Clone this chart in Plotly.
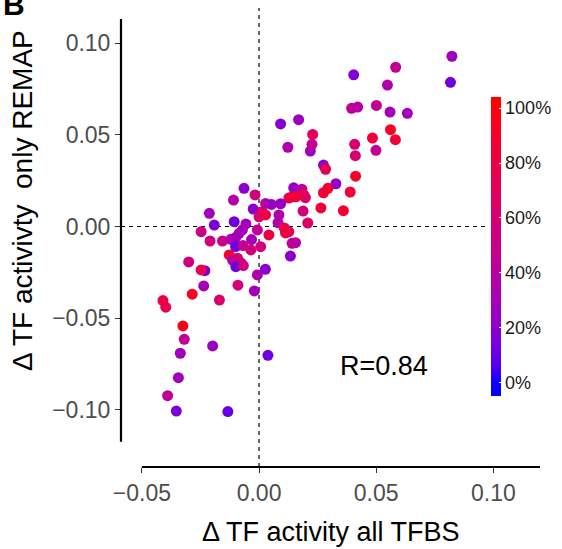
import plotly.graph_objects as go

# delta TF activity, all TFBS (x) vs only REMAP (y), colour = share of REMAP sites
tfbs_all = [
    0.0823, 0.0583, 0.0404, 0.0548, 0.0817, 0.0395, 0.0421, 0.0501, 0.0559, 0.0633,
    0.0561, 0.0484, 0.0582, 0.0408, 0.0499, 0.0411, 0.0219, 0.0275, 0.0284, 0.0412,
    0.0328, 0.0148, 0.0183, 0.0294, 0.0275, 0.0389, 0.0141, 0.0191, 0.0198, 0.0127,
    0.0188, 0.0264, 0.0360, 0.0208, 0.0127, 0.0141, 0.0156, 0.0134, 0.0092, 0.0169,
    0.0229, 0.0226, 0.0123, -0.0064, -0.0017, -0.0109, -0.0025, -0.0212, -0.0191, -0.0106,
    -0.0056, -0.0247, -0.0209, -0.0156, -0.0120, -0.0099, -0.0085, -0.0071, -0.0100, -0.0068,
    -0.0032, -0.0035, 0.0007, -0.0007, 0.0000, 0.0013, 0.0028, 0.0028, 0.0053, 0.0092,
    0.0085, 0.0081, 0.0042, 0.0108, 0.0113, 0.0157, -0.0127, -0.0113, -0.0092, -0.0078,
    -0.0099, -0.0067, -0.0231, -0.0247, -0.0300, -0.0007, 0.0027, -0.0236, -0.0090, -0.0020,
    -0.0285, -0.0169, -0.0410, -0.0398, -0.0325, -0.0319, -0.0198, -0.0336, 0.0038, -0.0344,
    -0.0390, -0.0353, -0.0133,
]
only_remap = [
    0.0928, 0.0868, 0.0827, 0.0771, 0.0786, 0.0644, 0.0651, 0.0660, 0.0624, 0.0617,
    0.0528, 0.0482, 0.0473, 0.0448, 0.0415, 0.0386, 0.0411, 0.0335, 0.0312, 0.0274,
    0.0233, 0.0211, 0.0203, 0.0208, 0.0184, 0.0188, 0.0162, 0.0172, 0.0157, 0.0155,
    0.0084, 0.0101, 0.0086, 0.0019, -0.0028, -0.0092, -0.0088, -0.0161, 0.0559, 0.0582,
    0.0502, 0.0448, 0.0432, 0.0208, 0.0172, 0.0144, 0.0095, 0.0072, 0.0008, 0.0026,
    0.0014, -0.0028, -0.0079, -0.0079, -0.0070, -0.0059, -0.0037, -0.0019, -0.0109, -0.0104,
    -0.0071, -0.0128, -0.0110, -0.0019, 0.0053, 0.0081, 0.0126, 0.0063, 0.0120, 0.0124,
    0.0063, 0.0021, -0.0046, -0.0008, -0.0035, 0.0162, -0.0155, -0.0183, -0.0173, -0.0197,
    -0.0219, -0.0213, -0.0241, -0.0237, -0.0193, -0.0264, -0.0233, -0.0324, -0.0320, -0.0351,
    -0.0369, -0.0401, -0.0404, -0.0440, -0.0542, -0.0615, -0.0651, -0.0691, -0.0702, -0.0824,
    -0.0922, -0.1006, -0.1009,
]
remap_share = [
    0.27, 0.45, 0.18, 0.35, 0.12, 0.45, 0.38, 0.45, 0.30, 0.28,
    0.92, 0.85, 0.85, 0.60, 0.45, 0.60, 0.28, 0.22, 0.72, 0.90,
    0.22, 0.22, 0.42, 0.88, 0.85, 0.85, 0.78, 0.82, 0.65, 0.80,
    0.55, 0.85, 0.88, 0.65, 0.70, 0.45, 0.40, 0.20, 0.18, 0.25,
    0.72, 0.45, 0.35, 0.20, 0.55, 0.35, 0.20, 0.28, 0.15, 0.12,
    0.30, 0.52, 0.55, 0.50, 0.35, 0.30, 0.30, 0.28, 0.12, 0.45,
    0.30, 0.58, 0.55, 0.45, 0.60, 0.65, 0.40, 0.80, 0.25, 0.25,
    0.35, 0.35, 0.80, 0.80, 0.80, 0.85, 0.88, 0.40, 0.55, 0.55,
    0.12, 0.55, 0.15, 0.75, 0.55, 0.35, 0.20, 0.30, 0.58, 0.30,
    0.92, 0.62, 0.82, 0.75, 0.95, 0.45, 0.25, 0.28, 0.12, 0.28,
    0.45, 0.15, 0.10,
]
x_ticks = [-0.05, 0.0, 0.05, 0.10]
x_labels = ["\u22120.05", "0.00", "0.05", "0.10"]
y_ticks = [-0.10, -0.05, 0.0, 0.05, 0.10]
y_labels = ["\u22120.10", "\u22120.05", "0.00", "0.05", "0.10"]
cb_ticks = [0, 0.2, 0.4, 0.6, 0.8, 1.0]
cb_labels = ["0%", "20%", "40%", "60%", "80%", "100%"]


def srgb_to_lab(c):
    lin = []
    for v in c:
        v = v / 255
        lin.append(v / 12.92 if v <= 0.04045 else ((v + 0.055) / 1.055) ** 2.4)
    r, g, b = lin
    X = (0.4124 * r + 0.3576 * g + 0.1805 * b) / 0.95047
    Y = 0.2126 * r + 0.7152 * g + 0.0722 * b
    Z = (0.0193 * r + 0.1192 * g + 0.9505 * b) / 1.08883
    f = lambda t: t ** (1 / 3) if t > 0.008856 else 7.787 * t + 16 / 116
    fx, fy, fz = f(X), f(Y), f(Z)
    return 116 * fy - 16, 500 * (fx - fy), 200 * (fy - fz)


def lab_to_srgb(L, a, b):
    fy = (L + 16) / 116
    fx = fy + a / 500
    fz = fy - b / 200
    inv = lambda t: t ** 3 if t ** 3 > 0.008856 else (t - 16 / 116) / 7.787
    X, Y, Z = inv(fx) * 0.95047, inv(fy), inv(fz) * 1.08883
    r = 3.2406 * X - 1.5372 * Y - 0.4986 * Z
    g = -0.9689 * X + 1.8758 * Y + 0.0415 * Z
    bb = 0.0557 * X - 0.2040 * Y + 1.0570 * Z
    out = []
    for v in (r, g, bb):
        v = 12.92 * v if v <= 0.0031308 else 1.055 * v ** (1 / 2.4) - 0.055
        out.append(int(round(min(max(v, 0), 1) * 255)))
    return "rgb({},{},{})".format(*out)


# blue -> red gradient interpolated in Lab, like scale_colour_gradient
lo, hi = srgb_to_lab((0, 0, 255)), srgb_to_lab((255, 0, 0))
cmin, cmax = -0.05, 1.04
scale = []
for i in range(21):
    t = i / 20
    v = cmin + t * (cmax - cmin)
    k = min(max(v, 0), 1)
    scale.append([t, lab_to_srgb(*[lo[j] + k * (hi[j] - lo[j]) for j in range(3)])])

fig = go.Figure(go.Scatter(
    x=tfbs_all, y=only_remap, mode="markers",
    marker=dict(
        size=11, color=remap_share, colorscale=scale, cmin=cmin, cmax=cmax,
        showscale=True,
        colorbar=dict(
            x=0.884, xanchor="left", y=0.48, yanchor="middle",
            len=299, lenmode="pixels", thickness=10, xpad=0, ypad=0,
            outlinewidth=0, tickvals=cb_ticks, ticktext=cb_labels,
            ticks="inside", ticklen=2, tickcolor="white",
            tickfont=dict(size=18, color="#1a1a1a"),
        ),
    ),
    showlegend=False,
))

fig.update_layout(
    width=562, height=549,
    margin=dict(l=121, r=19, t=8, b=82),
    plot_bgcolor="white", paper_bgcolor="white",
    font=dict(family="Liberation Sans, Arial, sans-serif"),
    xaxis=dict(
        range=[-0.0589, 0.1199], showgrid=False, zeroline=False, showline=False,
        tickvals=x_ticks, ticktext=x_labels, ticks="outside", ticklen=5,
        tickwidth=1.2, tickcolor="#333333", tickfont=dict(size=23, color="#4d4d4d"),
    ),
    yaxis=dict(
        range=[-0.1311, 0.1191], showgrid=False, zeroline=False, showline=False,
        tickvals=y_ticks, ticktext=y_labels, ticks="outside", ticklen=5,
        tickwidth=1.2, tickcolor="#333333", tickfont=dict(size=23, color="#4d4d4d"),
    ),
    shapes=[
        dict(type="line", xref="x", yref="y", x0=-0.0589, x1=0.0966, y0=0, y1=0,
             line=dict(color="black", width=1.2, dash="4px,4px"), layer="below"),
        dict(type="line", xref="x", yref="paper", x0=0, x1=0, y0=0, y1=1,
             line=dict(color="black", width=1.2, dash="4px,4px"), layer="below"),
        dict(type="line", xref="x", yref="paper", x0=-0.05, x1=0.12, y0=0, y1=0,
             line=dict(color="black", width=2.2)),
        dict(type="line", xref="paper", yref="y", x0=0, x1=0, y0=-0.1174, y1=0.1131,
             line=dict(color="black", width=2.2)),
    ],
    annotations=[
        dict(text="R=0.84", x=0.0534, y=-0.076, xref="x", yref="y", showarrow=False,
             font=dict(size=27, color="black")),
        dict(text="\u0394 TF activity all TFBS", x=0.5, y=-0.1416, xref="paper",
             yref="paper", showarrow=False, yanchor="middle",
             font=dict(size=27, color="black")),
        dict(text="\u0394 TF activivty \u00a0only REMAP", x=-0.2346, y=0.581,
             xref="paper", yref="paper", showarrow=False, textangle=-90,
             xanchor="center", yanchor="middle", font=dict(size=28, color="black")),
        dict(text="<b>B</b>", x=-0.2867, y=1.0087, xref="paper", yref="paper",
             showarrow=False, xanchor="left", yanchor="middle",
             font=dict(size=30, color="black")),
    ],
)

# drop the default 8px page margin so the figure sits at the window's corner
fig.write_html("out.html", config={"displayModeBar": False},
               post_script="document.body.style.margin='0px';")
